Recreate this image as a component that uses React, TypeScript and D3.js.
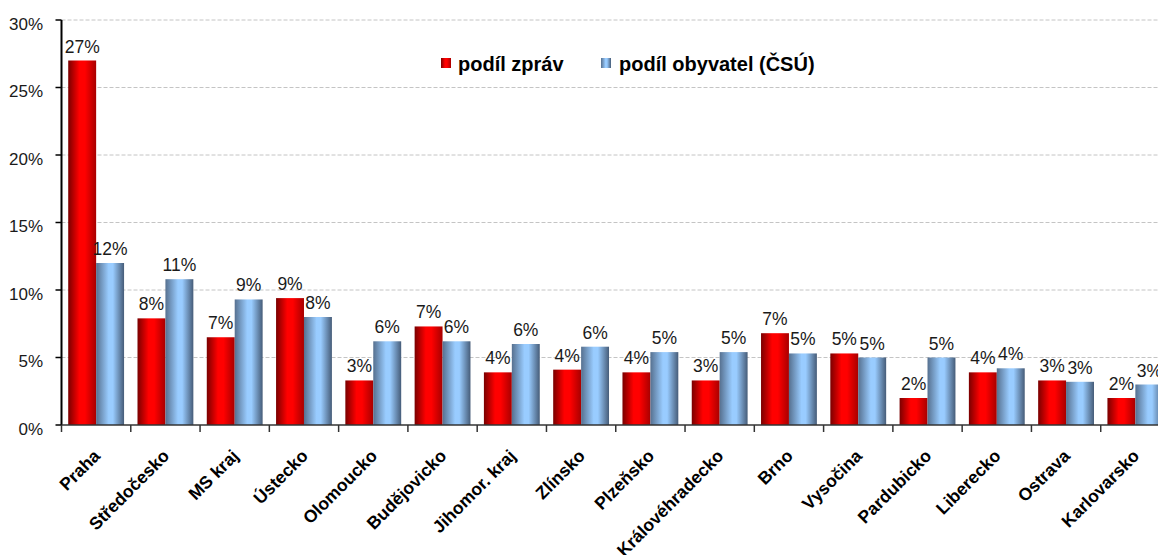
import React from "react";
import * as d3 from "d3";

const categories = [
  "Praha", "Středočesko", "MS kraj", "Ústecko", "Olomoucko", "Budějovicko",
  "Jihomor. kraj", "Zlínsko", "Plzeňsko", "Královéhradecko", "Brno", "Vysočina",
  "Pardubicko", "Liberecko", "Ostrava", "Karlovarsko",
];
const podilZprav = [27.0, 7.9, 6.5, 9.4, 3.3, 7.3, 3.9, 4.1, 3.9, 3.3, 6.8, 5.3, 2.0, 3.9, 3.3, 2.0];
const podilObyvatel = [12.0, 10.8, 9.3, 8.0, 6.2, 6.2, 6.0, 5.8, 5.4, 5.4, 5.3, 5.0, 5.0, 4.2, 3.2, 3.0];
const seriesNames = ["podíl zpráv", "podíl obyvatel (ČSÚ)"];
const yTicks = [0, 5, 10, 15, 20, 25, 30];

const W = 1158, H = 555;
const left = 61.5, right = 1170, top = 20, bottom = 425;
const FONT = "'Liberation Sans', Arial, sans-serif";

export default function App() {
  const x0 = d3.scaleBand<string>().domain(categories).range([left, right]).padding(0);
  const bw = x0.bandwidth();
  const x1 = d3.scaleBand<string>().domain(["a", "b"]).range([bw * 0.097, bw * 0.903]).padding(0);
  const y = d3.scaleLinear().domain([0, 30]).range([bottom, top]);
  const series = [podilZprav, podilObyvatel];
  const keys = ["a", "b"];
  const fills = ["url(#gRed)", "url(#gBlue)"];

  return (
    <div style={{ position: "absolute", left: 0, top: 0 }}>
      <svg width={W} height={H} style={{ display: "block", background: "#fff" }}>
        <defs>
          <linearGradient id="gRed" x1="0" x2="1" y1="0" y2="0">
            <stop offset="0" stopColor="#7a0000" />
            <stop offset="0.4" stopColor="#ff0000" />
            <stop offset="0.6" stopColor="#ff0000" />
            <stop offset="1" stopColor="#a80000" />
          </linearGradient>
          <linearGradient id="gBlue" x1="0" x2="1" y1="0" y2="0">
            <stop offset="0" stopColor="#56708f" />
            <stop offset="0.45" stopColor="#99ccff" />
            <stop offset="0.6" stopColor="#99ccff" />
            <stop offset="1" stopColor="#465c78" />
          </linearGradient>
        </defs>

        {/* gridlines */}
        {yTicks.filter((t) => t > 0).map((t) => (
          <line key={"g" + t} x1={left} x2={W} y1={y(t)} y2={y(t)}
            stroke="#c4c4c4" strokeWidth={1} strokeDasharray="4,2" />
        ))}

        {/* bars */}
        {categories.map((c, i) => (
          <g key={c} transform={`translate(${x0(c)},0)`}>
            {series.map((s, j) => (
              <rect key={j} x={x1(keys[j])} y={y(s[i])} width={x1.bandwidth()}
                height={y(0) - y(s[i])} fill={fills[j]} />
            ))}
            {series.map((s, j) => (
              <text key={"t" + j} x={(x1(keys[j]) as number) + x1.bandwidth() / 2} y={y(s[i]) - 8}
                textAnchor="middle" fontFamily={FONT} fontSize={17.5} fill="#1a1a1a">
                {Math.round(s[i])}%
              </text>
            ))}
          </g>
        ))}

        {/* y axis */}
        <line x1={left} x2={left} y1={top} y2={bottom} stroke="#000" strokeWidth={2} />
        {yTicks.map((t) => (
          <g key={"y" + t}>
            <line x1={left - 6} x2={left} y1={y(t)} y2={y(t)} stroke="#000" strokeWidth={1.5} />
            <text x={43} y={y(t) + 9.5} textAnchor="end" fontFamily={FONT} fontSize={17} fill="#1a1a1a">
              {t}%
            </text>
          </g>
        ))}

        {/* x axis */}
        <line x1={left} x2={W} y1={bottom} y2={bottom} stroke="#333" strokeWidth={1.5} />
        {categories.map((c) => (
          <line key={"xt" + c} x1={x0(c)} x2={x0(c)} y1={bottom} y2={bottom + 7} stroke="#333" strokeWidth={1.5} />
        ))}
        {categories.map((c) => {
          const cx = (x0(c) as number) + bw / 2;
          return (
            <text key={"xl" + c} transform={`translate(${cx + 5},${bottom + 32}) rotate(-45)`}
              textAnchor="end" fontFamily={FONT} fontSize={17.5} fontWeight="bold" fill="#000">
              {c}
            </text>
          );
        })}

        {/* legend */}
        <rect x={441} y={58} width={10} height={10} fill="url(#gRed)" />
        <text x={458} y={71} fontFamily={FONT} fontSize={20} fontWeight="bold" fill="#000">{seriesNames[0]}</text>
        <rect x={601} y={58} width={10} height={10} fill="url(#gBlue)" />
        <text x={619} y={71} fontFamily={FONT} fontSize={20} fontWeight="bold" fill="#000">{seriesNames[1]}</text>
      </svg>
    </div>
  );
}
